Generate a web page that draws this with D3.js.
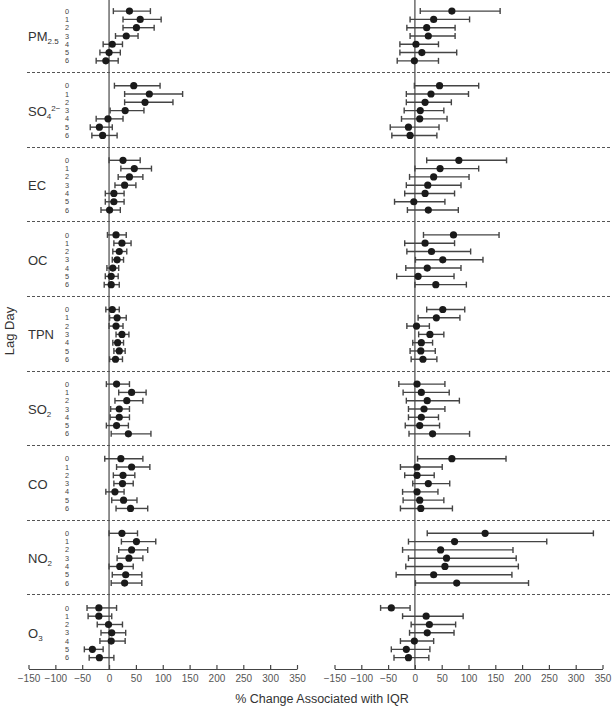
<!DOCTYPE html>
<html><head><meta charset="utf-8">
<script src="https://cdn.jsdelivr.net/npm/d3@7"></script>
<style>body{margin:0;background:#fff}svg{display:block}</style>
</head><body>
<svg id="c" width="614" height="710"></svg>
<script>
const pollutants = ["PM2.5","SO4","EC","OC","TPN","SO2","CO","NO2","O3"];
const lags = [0,1,2,3,4,5,6];
const xTicks = [-150,-100,-50,0,50,100,150,200,250,300,350];
// each entry: [estimate, lower, upper] for lags 0..6
const leftPanel = [
  [[38,8,77],[58,26,97],[51,26,84],[32,12,54],[6,-11,25],[0,-17,21],[-6,-24,17]],
  [[46,10,95],[75,29,137],[67,29,119],[30,2,65],[-2,-24,26],[-18,-35,6],[-12,-32,15]],
  [[26,0,58],[47,22,79],[38,17,63],[29,11,50],[9,-7,28],[9,-7,28],[1,-15,21]],
  [[13,-3,32],[24,9,41],[19,7,33],[15,6,27],[7,-4,18],[4,-7,17],[4,-9,19]],
  [[6,-6,19],[15,1,32],[13,0,26],[24,13,37],[16,7,27],[19,9,30],[12,1,25]],
  [[14,-5,38],[42,18,69],[33,11,63],[19,3,38],[19,2,38],[14,-5,36],[36,4,78]],
  [[22,-8,63],[42,14,76],[26,8,48],[25,9,45],[11,-6,28],[27,5,52],[40,13,72]],
  [[24,0,53],[51,23,87],[42,18,72],[37,15,63],[20,0,45],[31,6,61],[29,4,61]],
  [[-19,-41,14],[-19,-39,5],[-1,-22,25],[5,-15,31],[4,-17,30],[-31,-46,-11],[-18,-37,9]]
];
const rightPanel = [
  [[69,10,159],[35,-9,102],[22,-15,75],[25,-9,75],[2,-28,44],[13,-28,78],[-1,-33,44]],
  [[46,-1,119],[30,-16,100],[19,-16,68],[10,-20,54],[9,-25,60],[-12,-46,45],[-9,-43,41]],
  [[82,22,171],[47,0,119],[35,-10,101],[24,-16,86],[19,-19,74],[-2,-38,56],[25,-14,81]],
  [[72,16,157],[19,-19,74],[31,-15,104],[52,1,127],[23,-17,86],[6,-34,73],[39,0,96]],
  [[52,22,93],[40,6,84],[3,-15,27],[28,7,54],[12,-4,33],[11,-9,38],[15,-7,41]],
  [[4,-30,56],[12,-22,64],[23,-16,83],[17,-12,56],[12,-12,44],[9,-18,46],[33,-11,102]],
  [[69,5,170],[4,-27,51],[4,-19,36],[25,-4,65],[4,-23,43],[9,-22,54],[11,-27,70]],
  [[131,23,333],[74,-12,246],[48,-23,183],[59,-12,189],[56,-17,193],[35,-35,181],[78,1,212]],
  [[-44,-64,-9],[21,-23,90],[27,-7,76],[23,-10,73],[-1,-27,35],[-16,-44,28],[-12,-39,26]]
];

const svg = d3.select("#c");
const font = "Liberation Sans, Arial, Helvetica, sans-serif";
const axisY = 669;
const slotsPerGroup = 9;
const y = d3.scaleLinear().domain([0, pollutants.length*slotsPerGroup]).range([-2.4, axisY]);
const rowY = (g, j) => y(g*slotsPerGroup + 1.63 + j);
const xL = d3.scaleLinear().domain([-150,350]).range([28.5, 297]);
const xR = d3.scaleLinear().domain([-150,350]).range([334.5, 602.5]);

// separators
for (let g = 1; g < pollutants.length; g++) {
  const yy = Math.round(y(g*slotsPerGroup)) + 0.5;
  svg.append("line").attr("x1",27).attr("x2",610).attr("y1",yy).attr("y2",yy)
    .attr("stroke","#555").attr("stroke-width",1).attr("stroke-dasharray","3,2");
}

// zero lines
[xL, xR].forEach(x => {
  svg.append("line").attr("x1",x(0)).attr("x2",x(0)).attr("y1",0).attr("y2",axisY)
    .attr("stroke","#555").attr("stroke-width",1.3);
});

// axes
[xL, xR].forEach(x => {
  const ax = d3.axisBottom(x).tickValues(xTicks).tickSizeInner(-4).tickSizeOuter(0)
    .tickFormat(d => d < 0 ? "\u2212" + Math.abs(d) : d);
  const g = svg.append("g").attr("transform",`translate(0,${axisY})`).call(ax);
  g.select(".domain").attr("stroke","#444").attr("stroke-width",1.2);
  g.selectAll(".tick line").attr("stroke","#444").attr("stroke-width",1.2);
  g.selectAll(".tick text").attr("y",6).attr("font-family",font).attr("font-size",10).attr("fill","#555");
});

// group labels
const labelG = svg.append("g");
function groupLabel(g, base, sub, sup) {
  const t = labelG.append("text").attr("x",28).attr("y",rowY(g,3)+5)
    .attr("font-family",font).attr("font-size",13).attr("fill","#333");
  t.append("tspan").text(base);
  if (sub) t.append("tspan").attr("font-size",8).attr("dy",3).text(sub);
  if (sup) t.append("tspan").attr("font-size",8).attr("dy",-8).text(sup);
}
const labelParts = {
  "PM2.5": ["PM","2.5",null], "SO4": ["SO","4","2\u2212"], "EC": ["EC",null,null],
  "OC": ["OC",null,null], "TPN": ["TPN",null,null], "SO2": ["SO","2",null],
  "CO": ["CO",null,null], "NO2": ["NO","2",null], "O3": ["O","3",null]
};
pollutants.forEach((p,g) => {
  const [b,s,u] = labelParts[p];
  groupLabel(g,b,s,u);
  lags.forEach(j => {
    svg.append("text").attr("x",67).attr("y",rowY(g,j)+2.6).attr("text-anchor","middle")
      .attr("font-family",font).attr("font-size",7.3).attr("fill","#444").text(j);
  });
});

// error bars
function drawPanel(data, x) {
  data.forEach((grp,g) => {
    grp.forEach((d,j) => {
      const yy = rowY(g,j);
      const gg = svg.append("g");
      gg.append("line").attr("x1",x(d[1])).attr("x2",x(d[2])).attr("y1",yy).attr("y2",yy)
        .attr("stroke","#444").attr("stroke-width",1.4);
      [d[1],d[2]].forEach(v => gg.append("line").attr("x1",x(v)).attr("x2",x(v))
        .attr("y1",yy-3).attr("y2",yy+3).attr("stroke","#444").attr("stroke-width",1.4));
      gg.append("circle").attr("cx",x(d[0])).attr("cy",yy).attr("r",3.6).attr("fill","#1a1a1a");
    });
  });
}
drawPanel(leftPanel, xL);
drawPanel(rightPanel, xR);

// axis titles
svg.append("text").attr("transform",`translate(14,331) rotate(-90)`).attr("text-anchor","middle")
  .attr("font-family",font).attr("font-size",13).attr("fill","#333").text("Lag Day");
svg.append("text").attr("x",322).attr("y",703).attr("text-anchor","middle")
  .attr("font-family",font).attr("font-size",12.5).attr("fill","#333").text("% Change Associated with IQR");
</script>
</body></html>
